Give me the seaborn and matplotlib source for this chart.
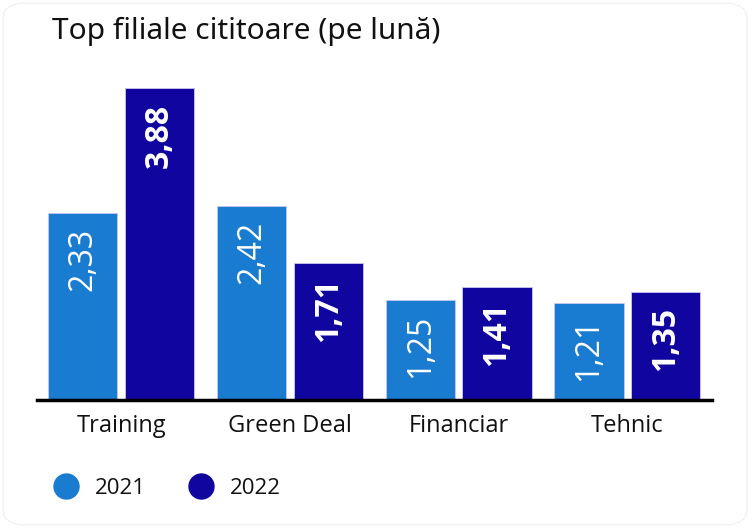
import pandas as pd
import matplotlib
matplotlib.use('Agg')
import matplotlib.pyplot as plt
from matplotlib.lines import Line2D
from matplotlib.patches import FancyBboxPatch
import seaborn as sns

# Chart data
categories = ['Training', 'Green Deal', 'Financiar', 'Tehnic']
years = ['2021', '2022']
vals_2021 = [2.33, 2.42, 1.25, 1.21]
vals_2022 = [3.88, 1.71, 1.41, 1.35]
colors = ['#1a7cd0', '#10069f']

df = pd.DataFrame({
    'categorie': categories * 2,
    'an': [years[0]] * 4 + [years[1]] * 4,
    'valoare': vals_2021 + vals_2022,
})

sns.set_style('white')
plt.rcParams['font.family'] = ['Open Sans', 'DejaVu Sans']

fig = plt.figure(figsize=(7.5, 5.28), dpi=100)
ax = fig.add_axes([0.049, 0.2424, 0.9, 0.6436])

sns.barplot(data=df, x='categorie', y='valoare', hue='an', order=categories,
            hue_order=years, palette=colors, saturation=1, width=0.91, gap=0.1,
            edgecolor='#c8c8f0', linewidth=0.6, legend=False, ax=ax)

ax.set_xlim(-0.5, 3.5)
ax.set_ylim(0, 4.228)
ax.set_xlabel('')
ax.set_ylabel('')
ax.set_yticks([])
for s in ['top', 'right', 'left']:
    ax.spines[s].set_visible(False)
ax.spines['bottom'].set_color('black')
ax.spines['bottom'].set_linewidth(2.5)
ax.tick_params(axis='x', length=0, labelsize=17, pad=10, labelcolor='#111111')

# value labels inside the bars, rotated
for i, cont in enumerate(ax.containers):
    weight = 'medium' if i == 0 else 'bold'
    for bar in cont:
        v = bar.get_height()
        ax.annotate(f'{v:.2f}'.replace('.', ','),
                    (bar.get_x() + bar.get_width() / 2, v),
                    xytext=(0, -11), textcoords='offset points',
                    rotation=90, ha='center', va='top',
                    color='white', fontsize=23, fontweight=weight)

fig.text(0.069, 0.926, 'Top filiale cititoare (pe lună)', fontsize=21.5,
         color='#111111', ha='left', va='baseline', fontweight='medium',
         family=['Noto Sans', 'DejaVu Sans'])

handles = [Line2D([], [], marker='o', linestyle='', markersize=18,
                  markerfacecolor=c, markeredgecolor=c) for c in colors]
fig.legend(handles, years, loc='center left', bbox_to_anchor=(0.058, 0.075),
           ncol=2, frameon=False, fontsize=16, handletextpad=0.3,
           columnspacing=1.5, borderaxespad=0, borderpad=0, labelcolor='#111111')

# faint rounded card border
fig.patches.append(FancyBboxPatch((0.004, 0.006), 0.992, 0.988,
                                  boxstyle='round,pad=0,rounding_size=0.03',
                                  transform=fig.transFigure, fill=False,
                                  edgecolor='#eeeeee', linewidth=0.8))

plt.savefig('out.png', dpi=100)
